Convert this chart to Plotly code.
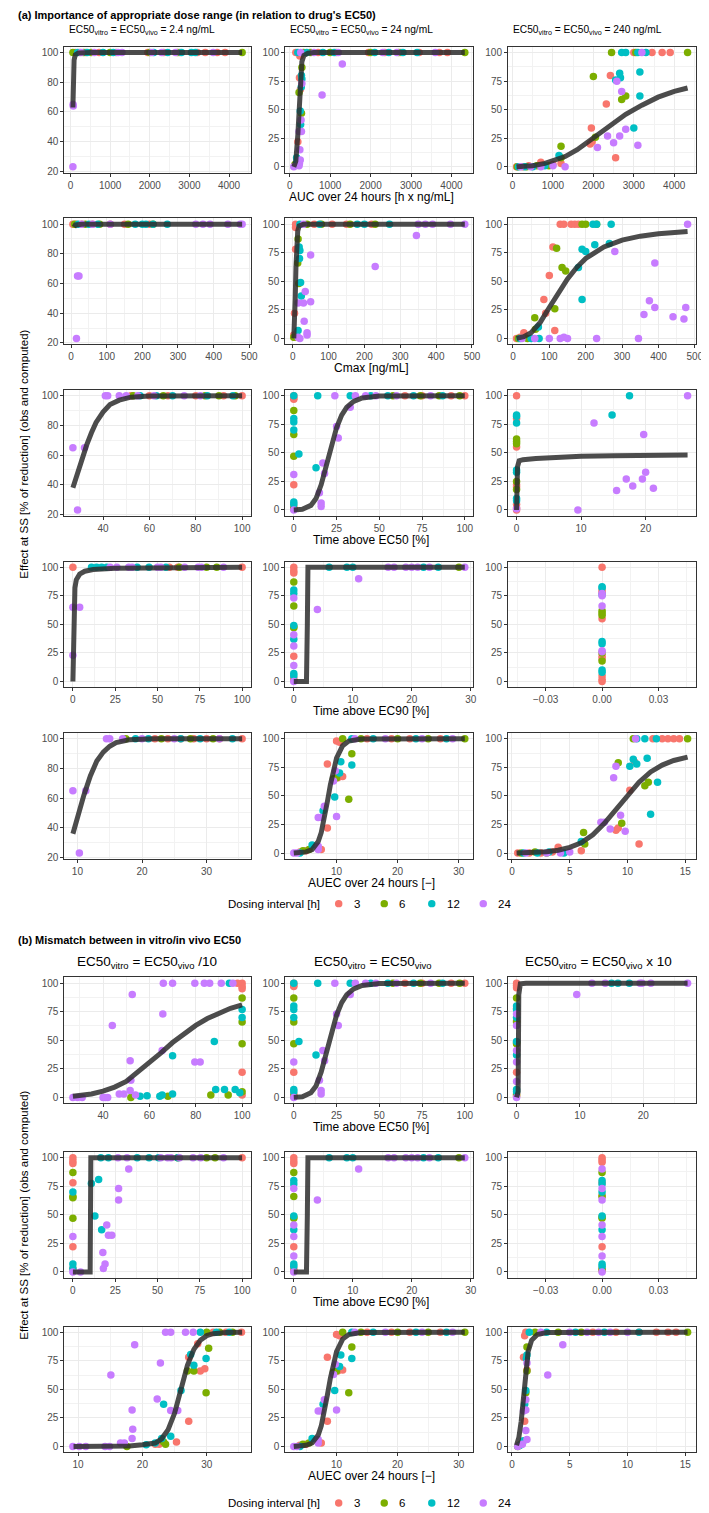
import plotly.graph_objects as go

W, H = 709, 1513
FONT = "Liberation Sans Narrow, Arial Narrow, Liberation Sans, Arial, sans-serif"

intervals = ["3", "6", "12", "24"]
colors = ["#F8766D", "#7CAE00", "#00BFC4", "#C77CFF"]

# ---------------- tick sets ----------------
ticks_auc = [0, 1000, 2000, 3000, 4000]
ticks_cmax = [0, 100, 200, 300, 400, 500]
ticks_pct = [0, 25, 50, 75, 100]
ticks_40_100 = [40, 60, 80, 100]
ticks_0_20 = [0, 10, 20]
ticks_0_30 = [0, 10, 20, 30]
ticks_10_30 = [10, 20, 30]
ticks_0_15 = [0, 5, 10, 15]
ticks_zero = [-0.03, 0.0, 0.03]
ticklabels_zero = ["\u22120.03", "0.00", "0.03"]
yticks_20 = [20, 40, 60, 80, 100]
yticks_0 = [0, 25, 50, 75, 100]

# ---------------- (a) row 1: AUC ----------------
a11_d3 = [(120, 100), (230, 100), (380, 100), (720, 100), (1150, 100), (1950, 100), (2350, 100),
          (2750, 100), (3200, 100), (3400, 100), (3700, 100), (3900, 100)]
a11_d6 = [(60, 100), (330, 100), (520, 100), (1000, 100), (2000, 100), (2700, 100), (4330, 100)]
a11_d12 = [(180, 100), (420, 100), (820, 100), (1080, 100), (2100, 100), (2450, 100), (2800, 100),
           (3050, 100), (3150, 100)]
a11_d24 = [(60, 23), (65, 65), (70, 64), (270, 100), (600, 100), (1200, 100), (1300, 100), (2050, 100),
           (2300, 100), (2650, 100), (3600, 100)]
a11_fit = [(60, 63), (65, 75), (75, 88), (90, 95), (120, 98.5), (200, 99.8), (500, 100), (4330, 100)]

a12_d3 = [(120, 1), (160, 3), (200, 22), (240, 78), (250, 97), (270, 98), (265, 68), (150, 100), (700, 100),
          (1150, 100), (1950, 100), (2350, 100), (2750, 100), (3200, 100), (3700, 100), (3900, 100)]
a12_d6 = [(130, 2), (230, 65), (300, 87), (290, 47), (340, 100), (520, 100), (1000, 100), (2000, 100),
          (2700, 100), (4330, 100)]
a12_d12 = [(170, 8), (180, 5), (260, 49), (270, 37), (290, 80), (300, 77), (285, 70), (200, 100), (420, 100),
           (820, 100), (1100, 100), (2100, 100), (2450, 100), (2800, 100), (3150, 100)]
a12_d24 = [(100, 0), (230, 1), (240, 3), (260, 6), (250, 15), (230, 31), (290, 31), (280, 41), (300, 73),
           (800, 63), (1300, 90), (270, 100), (600, 100), (1200, 100), (2300, 100), (2650, 100), (3600, 100)]
a12_fit = [(100, 0), (150, 5), (200, 28), (230, 55), (260, 78), (300, 92), (350, 97.5), (450, 99.5),
           (600, 100), (4330, 100)]

a13_d3 = [(100, 0), (250, 0), (400, 1), (700, 4), (1000, 2), (1200, 3), (1950, 34), (1920, 20), (1970, 22),
          (2320, 55), (2420, 80), (2550, 8), (3000, 100), (3450, 100), (3700, 100), (3900, 100)]
a13_d6 = [(120, 0), (350, 0), (600, 1), (900, 1), (1200, 18), (1200, 8), (2000, 79), (2050, 26), (2700, 59),
          (2800, 62), (2450, 100), (3050, 100), (4330, 100)]
a13_d12 = [(150, 0), (300, 0), (500, 0), (800, 1), (1150, 10), (2550, 76), (2650, 82), (2670, 78), (3000, 34),
           (3150, 62), (3150, 83), (2700, 100), (2800, 100), (3100, 100), (3300, 100)]
a13_d24 = [(200, 0), (450, 0), (700, 0), (1000, 1), (1300, 0), (2100, 17), (2350, 27), (2500, 21), (2580, 75),
           (2650, 27), (2700, 66), (2800, 33), (3100, 19), (3200, 100)]
a13_fit = [(100, 0), (500, 1), (800, 3), (1000, 5), (1300, 9), (1600, 15), (2000, 25), (2400, 36),
           (2800, 46), (3200, 54), (3600, 61), (4000, 66), (4330, 69)]

# ---------------- (a) row 2: Cmax ----------------
a21_d3 = [(5, 100), (15, 100), (30, 100), (60, 100), (110, 100), (150, 100), (220, 100)]
a21_d6 = [(10, 100), (40, 100), (80, 100), (160, 100), (230, 100)]
a21_d12 = [(20, 100), (50, 100), (75, 100), (180, 100), (200, 100), (210, 100), (230, 100), (270, 100)]
a21_d24 = [(15, 23), (18, 65), (22, 65), (30, 100), (60, 100), (110, 100), (350, 100), (370, 100),
           (390, 100), (440, 100), (475, 100), (480, 100)]
a21_fit = [(8, 98), (12, 99.5), (30, 100), (480, 100)]

a22_d3 = [(3, 3), (4, 1), (5, 22), (8, 78), (8, 97), (8, 100), (60, 100), (110, 100), (150, 100), (220, 100)]
a22_d6 = [(3, 1), (15, 87), (14, 66), (17, 48), (40, 100), (80, 100), (160, 100), (230, 100)]
a22_d12 = [(15, 7), (18, 80), (20, 77), (19, 70), (22, 49), (24, 37), (20, 100), (75, 100), (180, 100),
           (200, 100), (270, 100)]
a22_d24 = [(20, 0), (15, 1), (40, 3), (40, 5), (32, 15), (15, 31), (30, 31), (50, 32), (35, 41), (50, 73),
           (230, 63), (345, 90), (30, 100), (350, 100), (370, 100), (390, 100), (440, 100), (480, 100)]
a22_fit = [(3, 0), (5, 10), (7, 35), (9, 62), (11, 82), (14, 94), (18, 98.5), (30, 100), (480, 100)]

a23_d3 = [(10, 0), (20, 1), (30, 5), (85, 34), (90, 22), (100, 55), (110, 80), (115, 7), (130, 100),
          (140, 100), (160, 100), (170, 100), (180, 100)]
a23_d6 = [(15, 0), (40, 0), (60, 18), (62, 8), (115, 26), (120, 79), (135, 62), (145, 59), (190, 100),
          (200, 100), (230, 100)]
a23_d12 = [(20, 0), (50, 0), (70, 10), (72, 0), (180, 62), (190, 78), (200, 76), (190, 34), (225, 82),
           (265, 83), (220, 100), (230, 100), (270, 100)]
a23_d24 = [(25, 0), (60, 0), (100, 0), (130, 0), (140, 1), (150, 0), (230, 0), (345, 0), (280, 76), (360, 21),
           (375, 33), (390, 27), (390, 66), (440, 19), (470, 17), (475, 27), (480, 100)]
a23_fit = [(10, 0), (30, 1.5), (50, 5), (75, 14), (100, 27), (125, 40), (150, 52), (175, 62), (200, 70),
           (250, 80), (300, 86), (350, 89.5), (400, 91.5), (480, 93.5)]

# ---------------- (a) row 3: time above EC50 ----------------
a31_d3 = [(52, 100), (60, 100), (68, 100), (80, 100), (92, 100), (100, 100)]
a31_d6 = [(53, 100), (66, 100), (84, 100), (90, 100), (97, 100)]
a31_d12 = [(56, 100), (63, 100), (70, 100), (85, 100), (96, 100)]
a31_d24 = [(27, 65), (32, 65), (29, 23), (41, 100), (42, 100), (47, 100), (50, 100), (55, 100), (62, 100),
           (75, 100), (82, 100)]
a31_fit = [(27, 38), (29, 48), (31, 58), (33, 67), (35, 75), (37, 82), (40, 89), (43, 94), (47, 97),
           (52, 99), (60, 99.8), (100, 100)]

a32_d3 = [(0, 100), (0, 97), (0, 98), (0, 22), (0, 3), (0, 1), (65, 100), (75, 100), (92, 100), (100, 100)]
a32_d6 = [(0, 87), (0, 66), (0, 47), (0, 1), (58, 100), (74, 100), (85, 100), (97, 100)]
a32_d12 = [(0, 100), (0, 80), (0, 77), (0, 70), (0, 7), (0, 5), (3, 49), (13, 37), (14, 100), (33, 100),
           (45, 100), (55, 100), (70, 100), (87, 100)]
a32_d24 = [(0, 31), (0, 0), (15, 15), (16, 6), (16, 3), (17, 41), (18, 32), (24, 100), (25, 73), (26, 63),
           (33, 90), (36, 100), (42, 100), (48, 100), (60, 100), (80, 100)]
a32_fit = [(0, 0), (5, 0.5), (10, 4), (13, 10), (16, 22), (19, 38), (22, 56), (25, 72), (28, 83), (31, 90),
           (35, 95), (40, 98), (50, 99.7), (100, 100)]

a33_d3 = [(0, 100), (0, 80), (0, 55), (0, 22), (0, 20), (0, 5), (0, 2), (0, 0)]
a33_d6 = [(0, 62), (0, 60), (0, 58), (0, 25), (0, 18)]
a33_d12 = [(0, 83), (0, 82), (0, 76), (0, 35), (0, 33), (0, 10), (0, 8), (14.8, 83), (17.5, 100)]
a33_d24 = [(0, 1), (9.5, 0), (12, 76), (15.5, 17), (17, 27), (18, 21), (19.5, 27), (19.7, 66), (20, 33),
           (21.2, 19), (26.5, 100)]
a33_fit = [(0, 0), (0.05, 20), (0.15, 38), (0.4, 43), (1, 44), (3, 45), (6, 46), (10, 47), (15, 47.5),
           (20, 47.8), (26.5, 48)]

# ---------------- (a) row 4: time above EC90 ----------------
a41_d3 = [(0, 100), (57, 100), (62, 100), (100, 100)]
a41_d6 = [(63, 100), (79, 100), (85, 100)]
a41_d12 = [(11, 100), (14, 100), (17, 100), (20, 100), (38, 100), (45, 100), (55, 100)]
a41_d24 = [(0, 65), (4, 65), (0, 23), (22, 100), (26, 100), (33, 100), (35, 100), (50, 100), (52, 100),
           (66, 100), (74, 100), (76, 100), (89, 100)]
a41_fit = [(0, 0), (0.3, 40), (0.7, 70), (1.2, 82), (2, 89), (4, 94), (7, 96.5), (12, 98), (25, 99.2),
           (50, 99.7), (100, 100)]

a42_d3 = [(0, 100), (0, 97), (0, 95), (0, 22), (0, 3), (0, 1)]
a42_d6 = [(0, 87), (0, 66), (0, 48), (0, 47), (28, 100)]
a42_d12 = [(0, 80), (0, 77), (0, 49), (0, 37), (0, 7), (0, 5), (6, 100), (9, 100), (10, 100), (22, 100),
           (24.5, 100)]
a42_d24 = [(0, 73), (0, 41), (0, 31), (0, 14), (0, 0), (4, 63), (11, 90), (16, 100), (17, 100), (19, 100),
           (20, 100), (21, 100), (23, 100), (29, 100)]
a42_fit = [(0, 0), (2.15, 0), (2.3, 50), (2.4, 100), (29, 100)]

a43_d3 = [(0, 100), (0, 80), (0, 78), (0, 55), (0, 22), (0, 20), (0, 5), (0, 2), (0, 0)]
a43_d6 = [(0, 62), (0, 60), (0, 58), (0, 25), (0, 18)]
a43_d12 = [(0, 83), (0, 82), (0, 76), (0, 35), (0, 33), (0, 10), (0, 8)]
a43_d24 = [(0, 77), (0, 75), (0, 66), (0, 27), (0, 26)]
a43_fit = []

# ---------------- (a) row 5: AUEC ----------------
a51_d3 = [(22, 100), (24, 100), (26, 100), (28, 100), (30, 100), (32, 100), (35.5, 100)]
a51_d6 = [(17.5, 100), (23, 100), (27.5, 100), (31, 100)]
a51_d12 = [(19, 100), (21, 100), (26, 100), (29, 100), (34, 100)]
a51_d24 = [(9.3, 65), (11.3, 65), (10.3, 23), (14.5, 100), (15, 100), (17, 100), (20, 100), (25, 100),
           (32, 100)]
a51_fit = [(9.3, 36), (10, 47), (11, 62), (12, 75), (13, 85), (14, 91), (15, 95), (16, 97.5), (18, 99.3),
           (22, 100), (35.5, 100)]

a52_d3 = [(4, 1), (5, 2), (7.5, 3), (8.5, 22), (8.5, 78), (10.2, 66), (11, 67), (10, 98), (10.5, 97),
          (15, 100), (19, 100), (22, 100), (27, 100)]
a52_d6 = [(4.5, 2), (5.5, 3), (9.5, 65), (10, 66), (12, 47), (12.5, 87), (11, 100), (14, 100), (20, 100),
          (25, 100), (31, 100)]
a52_d12 = [(4, 0), (6, 7), (7.8, 37), (9.7, 49), (10.5, 70), (10.7, 80), (12.5, 77), (12.5, 100), (16, 100),
           (23, 100), (28, 100)]
a52_d24 = [(3, 0), (3.5, 0), (7, 3), (7, 6), (7, 31), (7.5, 31), (8, 41), (9.5, 63), (9.8, 72), (10, 32),
           (13, 100), (18, 100), (24, 100), (29, 100)]
a52_fit = [(3, 0), (5, 1), (6, 3), (7, 10), (7.5, 18), (8, 30), (8.5, 45), (9, 60), (9.5, 73), (10, 83),
           (11, 94), (12, 98), (14, 99.8), (31, 100)]

a53_d3 = [(0.5, 0), (1.5, 0), (2.5, 0), (3.5, 1), (4, 5), (6, 2), (9, 20), (9.2, 22), (10.2, 55), (10.6, 80),
          (11, 8), (12.2, 100), (13, 100), (13.5, 100), (14, 100), (14.5, 100)]
a53_d6 = [(0.8, 0), (2, 1), (3, 0), (6.2, 18), (6.3, 8), (9.2, 79), (9.5, 26), (11.5, 59), (11.8, 62),
          (10.5, 100), (15.2, 100)]
a53_d12 = [(1, 0), (2.2, 0), (3.2, 1), (4.5, 0), (6, 10), (10.2, 76), (10.5, 82), (10.8, 78), (11.7, 83),
           (12, 34), (12.6, 62), (10.8, 100), (11.5, 100), (12.5, 100)]
a53_d24 = [(1.2, 0), (3, 0), (4.2, 0), (5, 1), (7.7, 27), (8, 27), (8.5, 21), (8.8, 66), (9, 76), (9.4, 33),
           (9.8, 19), (10.7, 100)]
a53_fit = [(0.4, 0), (2, 0.5), (3, 1.2), (4, 2.5), (5, 5), (6, 9), (7, 16), (8, 26), (9, 38), (10, 51),
           (11, 62), (12, 71), (13, 77), (14, 81), (15.2, 84)]

# ---------------- (b) row 1: time above EC50 ----------------
b11_d3 = [(100, 100), (100, 97), (100, 95), (100, 22), (100, 2), (98, 100)]
b11_d6 = [(100, 87), (100, 66), (100, 47), (100, 5), (52, 0), (68, 1), (86.5, 2), (94, 2)]
b11_d12 = [(100, 77), (100, 70), (94.5, 100), (88, 49), (70, 36.5), (56, 1), (59, 1.5), (64.5, 1),
           (65.5, 2), (70, 3), (88.6, 7), (92.4, 7), (97, 7), (99, 4)]
b11_d24 = [(27, 0), (29, 0), (31, 0), (40, 0), (41, 0), (42, 0), (47, 3), (49, 3), (51.7, 6), (52, 15),
           (54, 2), (44, 63), (52.6, 90), (65.8, 73), (65.5, 41), (51.7, 32), (79.6, 31), (81.9, 31),
           (66, 100), (70, 100), (79.6, 100), (83.7, 100), (86, 100), (91, 100), (96, 100)]
b11_fit = [(27, 1), (30, 1.5), (35, 3), (40, 5.5), (45, 9), (50, 14), (55, 22), (60, 30), (65, 39),
           (70, 48), (75, 56), (80, 63), (85, 69), (90, 74), (95, 78), (100, 81)]

b13_d3 = [(0, 100), (0, 98), (0, 96), (0, 78), (0, 67), (0, 22), (0, 3), (0, 1)]
b13_d6 = [(0, 87), (0, 66), (0, 48), (0, 47), (0, 2)]
b13_d12 = [(0, 80), (0, 77), (0, 70), (0, 49), (0, 37), (0, 7), (0, 5), (15, 100), (16, 100), (17.8, 100)]
b13_d24 = [(0, 73), (0, 63), (0, 41), (0, 31), (0, 14), (0, 0), (9.5, 90), (11.9, 100), (14, 100),
           (19.5, 100), (19.8, 100), (21.2, 100), (27, 100)]
b13_fit = [(0, 0), (0.25, 5), (0.35, 90), (0.6, 99.5), (1.5, 100), (27, 100)]

# ---------------- (b) row 2: time above EC90 ----------------
b21_d3 = [(0, 100), (0, 97), (0, 95), (0, 78), (0, 22), (0, 3), (100, 100)]
b21_d6 = [(0, 87), (0, 66), (0, 65), (0, 47), (62, 100), (79, 100), (84, 100)]
b21_d12 = [(0, 70), (0, 7), (0, 3), (10.9, 77.5), (15.2, 81), (13, 49), (17, 37), (16.5, 100), (21, 100),
           (38, 100), (45, 100), (50.6, 100), (62, 100)]
b21_d24 = [(0, 31), (0, 0), (4.5, 0), (17.7, 17), (19, 7), (18, 3), (20, 41), (21, 32), (23, 32), (27, 73),
           (27, 63), (33, 90), (26.6, 100), (32, 100), (51.9, 100), (56, 100), (58, 100), (63, 100),
           (71, 100), (75.5, 100), (89, 100)]
b21_fit = [(0, 0), (10.2, 0), (10.6, 100), (100, 100)]

b23_d3 = [(0, 100), (0, 98), (0, 96), (0, 78), (0, 67), (0, 22), (0, 3), (0, 1)]
b23_d6 = [(0, 87), (0, 66), (0, 48), (0, 47), (0, 2)]
b23_d12 = [(0, 80), (0, 77), (0, 70), (0, 49), (0, 37), (0, 7), (0, 5)]
b23_d24 = [(0, 90), (0, 73), (0, 63), (0, 41), (0, 31), (0, 14), (0, 0)]
b23_fit = []

# ---------------- (b) row 3: AUEC ----------------
b31_d3 = [(22, 2), (22.6, 2), (25.3, 4), (27.2, 22), (27.2, 78), (29, 66), (29.7, 68), (28.6, 90),
          (31, 100), (33, 100), (35.4, 100)]
b31_d6 = [(17.6, 0), (23.3, 4), (23.6, 2), (27, 66), (28, 66), (29.9, 47), (30.3, 86), (30, 100),
          (32, 100), (34, 100)]
b31_d12 = [(20.6, 1.5), (22, 3), (23, 7), (24.4, 9), (23.3, 37), (26, 49), (27.5, 80.6), (28, 71),
           (29.9, 77), (29, 100), (31.5, 100), (33.5, 100)]
b31_d24 = [(9.2, 0), (10.2, 0), (11.2, 0), (14.2, 0), (14.9, 0), (16.6, 3), (17.2, 3), (18.4, 7),
           (18.5, 15), (18.4, 32), (15.1, 62.6), (18.8, 89), (22.3, 41.5), (22.8, 73), (24.4, 31.5),
           (25.5, 31.5), (23.6, 100), (24.4, 100), (26.7, 100), (27.9, 100)]
b31_fit = [(9.3, 0), (15, 0), (18, 0.5), (20, 1.5), (22, 3), (23, 6.7), (24, 14.7), (25, 29), (26, 50),
           (27, 71), (28, 85), (29, 93), (30, 97), (31, 98.7), (33, 99.7), (35.5, 100)]

b33_d3 = [(0.6, 1), (0.9, 3), (1.0, 78), (1.1, 22), (1.1, 97), (1.2, 100), (1.3, 67), (7, 100), (9, 100),
          (11, 100), (12.5, 100), (13.5, 100), (14.2, 100)]
b33_d6 = [(0.5, 0), (0.8, 2), (1.2, 47), (1.3, 66), (1.3, 87), (2, 100), (4, 100), (6, 100), (15.2, 100)]
b33_d12 = [(0.7, 1), (1.0, 5), (1.1, 37), (1.2, 49), (1.25, 77), (1.3, 80), (1.5, 100), (3, 100),
           (5.5, 100), (8, 100), (11, 100)]
b33_d24 = [(0.5, 0), (0.9, 2), (1.0, 31), (1.2, 32), (1.2, 41), (1.3, 6), (1.2, 14), (1.3, 73),
           (3.1, 62.6), (4.4, 89), (2.5, 100), (5, 100), (6.5, 100), (7.5, 100), (8.5, 100), (10, 100)]
b33_fit = [(0.4, 1), (0.6, 8), (0.8, 22), (1.0, 45), (1.2, 68), (1.4, 83), (1.7, 93), (2.2, 98),
           (3, 99.8), (15.2, 100)]

# ---------------- text ----------------
title_a = "<b>(a) Importance of appropriate dose range (in relation to drug's EC50)</b>"
title_b = "<b>(b) Mismatch between in vitro/in vivo EC50</b>"
heads_a = ["EC50<sub>vitro</sub> = EC50<sub>vivo</sub> = 2.4 ng/mL",
           "EC50<sub>vitro</sub> = EC50<sub>vivo</sub> = 24 ng/mL",
           "EC50<sub>vitro</sub> = EC50<sub>vivo</sub> = 240 ng/mL"]
heads_b = ["EC50<sub>vitro</sub> = EC50<sub>vivo</sub> /10",
           "EC50<sub>vitro</sub> = EC50<sub>vivo</sub>",
           "EC50<sub>vitro</sub> = EC50<sub>vivo</sub> x 10"]
xtitles_a = ["AUC over 24 hours [h x ng/mL]", "Cmax [ng/mL]", "Time above EC50 [%]",
             "Time above EC90 [%]", "AUEC over 24 hours [\u2212]"]
xtitles_b = ["Time above EC50 [%]", "Time above EC90 [%]", "AUEC over 24 hours [\u2212]"]
ytitle = "Effect at SS [% of reduction] (obs and computed)"
legend_title = "Dosing interval [h]"

# panels: (data lists, fit, xticks, xticklabels, yticks)
P = lambda n: [globals()[n + "_d" + k] for k in intervals]
panels_a = [
    [(P("a11"), a11_fit, ticks_auc, None, yticks_20), (P("a12"), a12_fit, ticks_auc, None, yticks_0),
     (P("a13"), a13_fit, ticks_auc, None, yticks_0)],
    [(P("a21"), a21_fit, ticks_cmax, None, yticks_20), (P("a22"), a22_fit, ticks_cmax, None, yticks_0),
     (P("a23"), a23_fit, ticks_cmax, None, yticks_0)],
    [(P("a31"), a31_fit, ticks_40_100, None, yticks_20), (P("a32"), a32_fit, ticks_pct, None, yticks_0),
     (P("a33"), a33_fit, ticks_0_20, None, yticks_0)],
    [(P("a41"), a41_fit, ticks_pct, None, yticks_0), (P("a42"), a42_fit, ticks_0_30, None, yticks_0),
     (P("a43"), a43_fit, ticks_zero, ticklabels_zero, yticks_0)],
    [(P("a51"), a51_fit, ticks_10_30, None, yticks_20), (P("a52"), a52_fit, ticks_10_30, None, yticks_0),
     (P("a53"), a53_fit, ticks_0_15, None, yticks_0)],
]
panels_b = [
    [(P("b11"), b11_fit, ticks_40_100, None, yticks_0), (P("a32"), a32_fit, ticks_pct, None, yticks_0),
     (P("b13"), b13_fit, ticks_0_20, None, yticks_0)],
    [(P("b21"), b21_fit, ticks_pct, None, yticks_0), (P("a42"), a42_fit, ticks_0_30, None, yticks_0),
     (P("b23"), b23_fit, ticks_zero, ticklabels_zero, yticks_0)],
    [(P("b31"), b31_fit, ticks_10_30, None, yticks_0), (P("a52"), a52_fit, ticks_10_30, None, yticks_0),
     (P("b33"), b33_fit, ticks_0_15, None, yticks_0)],
]

# ---------------- layout geometry (pixels) ----------------
cols_px = [(57, 245), (280, 470), (505, 695)]
rows_a_px = [39, 211, 383, 555, 727]
rows_b_px = [972, 1147, 1322]
PH = 126
XT_CENTER = 367


def rng(vals):
    lo, hi = min(vals), max(vals)
    if hi - lo == 0:
        return [lo - 0.05, hi + 0.05]
    pad = 0.05 * (hi - lo)
    return [lo - pad, hi + pad]


def minor(ticks):
    step = ticks[1] - ticks[0]
    return [t - step / 2 for t in ticks] + [ticks[-1] + step / 2]


fig = go.Figure()
layout = {}
annotations = []
shapes = []
n = 0


def add_panel(panel, col, top):
    global n
    n += 1
    data, fit, xt, xtl, yt = panel
    xs = [p[0] for s in data for p in s] + [p[0] for p in fit]
    ys = [p[1] for s in data for p in s] + [p[1] for p in fit]
    sfx = "" if n == 1 else str(n)
    for k, s in enumerate(data):
        fig.add_trace(go.Scatter(x=[p[0] for p in s], y=[p[1] for p in s], mode="markers",
                                 marker=dict(color=colors[k], size=7.5, line=dict(width=0)),
                                 xaxis="x" + sfx, yaxis="y" + sfx, showlegend=False, hoverinfo="skip"))
    if fit:
        fig.add_trace(go.Scatter(x=[p[0] for p in fit], y=[p[1] for p in fit], mode="lines",
                                 line=dict(color="rgba(45,45,45,0.85)", width=5),
                                 xaxis="x" + sfx, yaxis="y" + sfx, showlegend=False, hoverinfo="skip"))
    ax = dict(showline=True, mirror=True, linecolor="#333333", linewidth=1, ticks="outside", ticklen=3,
              tickcolor="#333333", tickfont=dict(size=10, color="#4D4D4D"), zeroline=False,
              showgrid=True, gridcolor="#EBEBEB", gridwidth=1)
    x0, x1 = cols_px[col]
    layout["xaxis" + sfx] = dict(ax, domain=[x0 / W, x1 / W], range=rng(xs), tickvals=xt,
                                 ticktext=xtl if xtl else [str(t) for t in xt], anchor="y" + sfx,
                                 minor=dict(tickvals=minor(xt), showgrid=True, gridcolor="#F2F2F2",
                                            gridwidth=0.6, ticks=""))
    layout["yaxis" + sfx] = dict(ax, domain=[1 - (top + PH) / H, 1 - top / H], range=rng(ys), tickvals=yt,
                                 ticktext=[str(t) for t in yt], anchor="x" + sfx,
                                 minor=dict(tickvals=minor(yt), showgrid=True, gridcolor="#F2F2F2",
                                            gridwidth=0.6, ticks=""))


def text(s, x, y, size, xanchor="center", angle=0, color="black"):
    annotations.append(dict(text=s, x=x / W, y=1 - y / H, xref="paper", yref="paper", showarrow=False,
                            xanchor=xanchor, yanchor="middle", textangle=angle,
                            font=dict(size=size, color=color, family=FONT)))


def legend_row(y):
    # ggplot-style horizontal legend drawn with shapes + text
    text(legend_title, 220, y, 11.5, xanchor="left")
    marks = [334, 380, 428, 480]
    for k, lab in enumerate(intervals):
        cx = marks[k]
        shapes.append(dict(type="circle", xref="paper", yref="paper", line=dict(width=0),
                           fillcolor=colors[k], x0=(cx - 3.75) / W, x1=(cx + 3.75) / W,
                           y0=1 - (y + 3.75) / H, y1=1 - (y - 3.75) / H))
        text(lab, cx + 13, y, 11.5, xanchor="left")


for r, row in enumerate(panels_a):
    for c, panel in enumerate(row):
        add_panel(panel, c, rows_a_px[r])
    text(xtitles_a[r], XT_CENTER, rows_a_px[r] + PH + 24, 12)
for r, row in enumerate(panels_b):
    for c, panel in enumerate(row):
        add_panel(panel, c, rows_b_px[r])
    text(xtitles_b[r], XT_CENTER, rows_b_px[r] + PH + 24, 12)

text(title_a, 8, 7, 11, xanchor="left")
text(title_b, 8, 934, 11, xanchor="left")
heads_b_center = [140, 369, 596]
for c in range(3):
    text(heads_a[c], cols_px[c][0] + 3, 23, 10.2, xanchor="left")
    text(heads_b[c], heads_b_center[c], 957, 13.5)
text(ytitle, 16, 447, 11.5, angle=-90)
text(ytitle, 16, 1210, 11.5, angle=-90)
legend_row(898)
legend_row(1499)

fig.update_layout(
    width=W, height=H, margin=dict(l=0, r=0, t=0, b=0),
    plot_bgcolor="white", paper_bgcolor="white",
    font=dict(family=FONT, color="black"),
    annotations=annotations, shapes=shapes, showlegend=False,
    **layout,
)

fig.write_html("out.html")
